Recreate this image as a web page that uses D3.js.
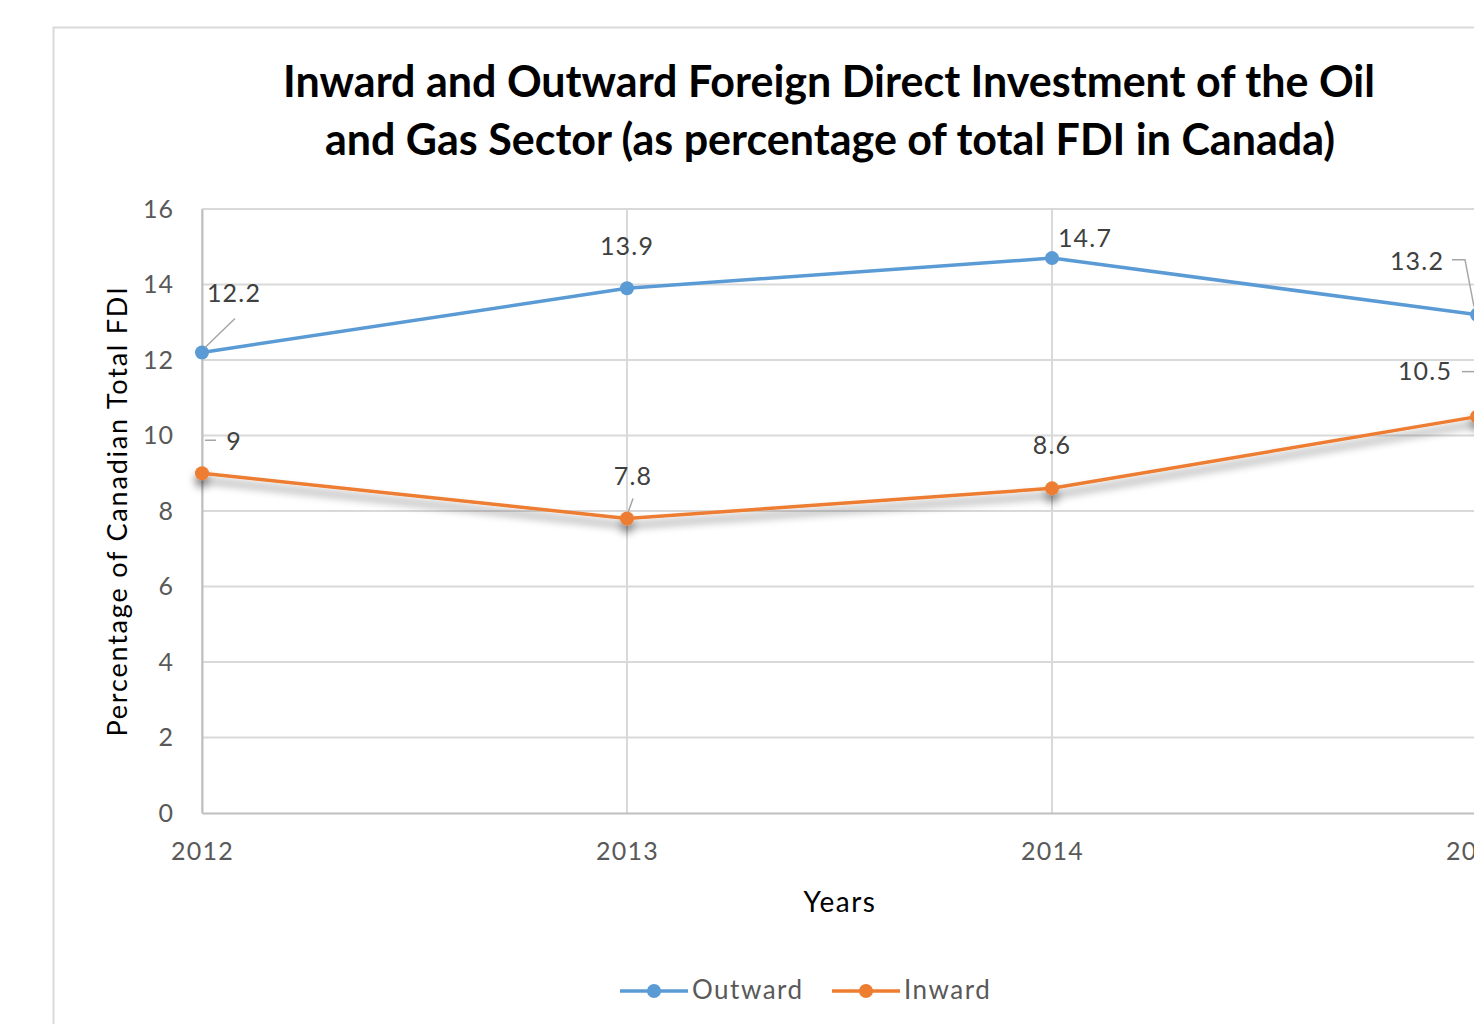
<!DOCTYPE html>
<html>
<head>
<meta charset="utf-8">
<script src="https://cdn.jsdelivr.net/npm/d3@7"></script>
<style>
  body { margin: 0; background: #fff; }
  text { font-family: Lato, "Open Sans", sans-serif; }
</style>
</head>
<body>
<script>
var years = [2012, 2013, 2014, 2015];
var outward = [12.2, 13.9, 14.7, 13.2];
var inward = [9, 7.8, 8.6, 10.5];
var yTicks = [0, 2, 4, 6, 8, 10, 12, 14, 16];
var seriesNames = ["Outward", "Inward"];
var colors = ["#5B9BD5", "#ED7D31"];

var width = 1474, height = 1024;

var x = d3.scaleLinear().domain([2012, 2015]).range([202, 1477]);
var y = d3.scaleLinear().domain([0, 16]).range([813, 209]);

var svg = d3.select("body").append("svg")
    .attr("width", width)
    .attr("height", height);

var defs = svg.append("defs");
var f = defs.append("filter").attr("id", "shadow")
    .attr("x", "-5%").attr("y", "-50%").attr("width", "110%").attr("height", "250%");
f.append("feGaussianBlur").attr("in", "SourceAlpha").attr("stdDeviation", 4);
f.append("feOffset").attr("dx", 0).attr("dy", 7).attr("result", "b");
f.append("feComponentTransfer").append("feFuncA").attr("type", "linear").attr("slope", 0.5);
var fm = f.append("feMerge");
fm.append("feMergeNode");
fm.append("feMergeNode").attr("in", "SourceGraphic");

// chart frame
svg.append("rect")
    .attr("x", 53.5).attr("y", 27.5)
    .attr("width", 1500).attr("height", 1100)
    .attr("fill", "#fff").attr("stroke", "#d9d9d9").attr("stroke-width", 2);

// title
var title = svg.append("text")
    .attr("text-anchor", "middle")
    .attr("font-size", 43).attr("font-weight", "bold").attr("fill", "#000");
title.append("tspan").attr("x", 829).attr("y", 97)
    .text("Inward and Outward Foreign Direct Investment of the Oil");
title.append("tspan").attr("x", 830).attr("y", 155)
    .text("and Gas Sector (as percentage of total FDI in Canada)");

// grid
svg.append("g").selectAll("line").data(yTicks.filter(d => d > 0)).join("line")
    .attr("x1", 202).attr("x2", width)
    .attr("y1", d => y(d)).attr("y2", d => y(d))
    .attr("stroke", "#d9d9d9").attr("stroke-width", 2);
svg.append("g").selectAll("line").data(years).join("line")
    .attr("x1", d => x(d)).attr("x2", d => x(d))
    .attr("y1", y(16)).attr("y2", y(0))
    .attr("stroke", "#d9d9d9").attr("stroke-width", 2);

// axes
var yAxis = svg.append("g").attr("transform", "translate(202,0)")
    .call(d3.axisLeft(y).tickValues(yTicks).tickSize(0).tickPadding(28));
yAxis.select(".domain").attr("stroke", "#bfbfbf").attr("stroke-width", 2);
yAxis.selectAll("text").attr("font-size", 25).attr("letter-spacing", 1).attr("fill", "#595959");

var xAxis = svg.append("g").attr("transform", "translate(0,813)")
    .call(d3.axisBottom(x).tickValues(years).tickFormat(d3.format("d")).tickSize(0).tickPadding(29));
xAxis.select(".domain").attr("stroke", "#bfbfbf").attr("stroke-width", 2);
xAxis.selectAll("text").attr("font-size", 25).attr("letter-spacing", 1.2).attr("fill", "#595959");

// axis titles
svg.append("text")
    .attr("transform", "translate(127,511) rotate(-90)")
    .attr("text-anchor", "middle").attr("font-size", 27).attr("letter-spacing", 1.8).attr("fill", "#000")
    .text("Percentage of Canadian Total FDI");
svg.append("text")
    .attr("x", 840).attr("y", 912)
    .attr("text-anchor", "middle").attr("font-size", 28).attr("letter-spacing", 1.5).attr("fill", "#000")
    .text("Years");

// series
var line = d3.line().x((d, i) => x(years[i])).y(d => y(d));
[outward, inward].forEach(function (vals, k) {
  var g = svg.append("g").attr("filter", k === 1 ? "url(#shadow)" : null);
  g.append("path").datum(vals)
      .attr("d", line).attr("fill", "none")
      .attr("stroke", colors[k]).attr("stroke-width", 3.5);
  g.selectAll("circle").data(vals).join("circle")
      .attr("cx", (d, i) => x(years[i])).attr("cy", d => y(d))
      .attr("r", 7).attr("fill", colors[k]);
});

// data labels (offsets relative to point)
var labelPos = [
  [[32, -50], [0, -33], [33, -11], [-60, -45]],
  [[32, -23], [6, -34], [0, -34], [-52, -37]]
];
var leaders = [
  [[[3, -5], [33, -34]], null, null, [[-25, -55], [-12, -55], [-3, -8]]],
  [[[3, -33], [14, -33]], [[1, -6], [6, -20]], null, [[-15, -45], [-3, -45]]]
];
[outward, inward].forEach(function (vals, k) {
  vals.forEach(function (v, i) {
    var px = x(years[i]), py = y(v);
    svg.append("text")
        .attr("x", px + labelPos[k][i][0]).attr("y", py + labelPos[k][i][1])
        .attr("text-anchor", "middle").attr("font-size", 25).attr("letter-spacing", 1.2)
        .attr("fill", "#404040")
        .text(v);
    var ld = leaders[k][i];
    if (ld) {
      svg.append("polyline")
          .attr("points", ld.map(p => (px + p[0]) + "," + (py + p[1])).join(" "))
          .attr("fill", "none").attr("stroke", "#a6a6a6").attr("stroke-width", 1.5);
    }
  });
});

// legend
var legend = svg.append("g");
var legX = [620, 832];
seriesNames.forEach(function (name, k) {
  var lg = legend.append("g").attr("transform", "translate(" + legX[k] + ",991)");
  lg.append("line").attr("x1", 0).attr("x2", 68)
      .attr("stroke", colors[k]).attr("stroke-width", 3.5);
  lg.append("circle").attr("cx", 34).attr("r", 7).attr("fill", colors[k]);
  lg.append("text").attr("x", 72).attr("y", 8)
      .attr("font-size", 26).attr("letter-spacing", 1.5).attr("fill", "#595959").text(name);
});
</script>
</body>
</html>
